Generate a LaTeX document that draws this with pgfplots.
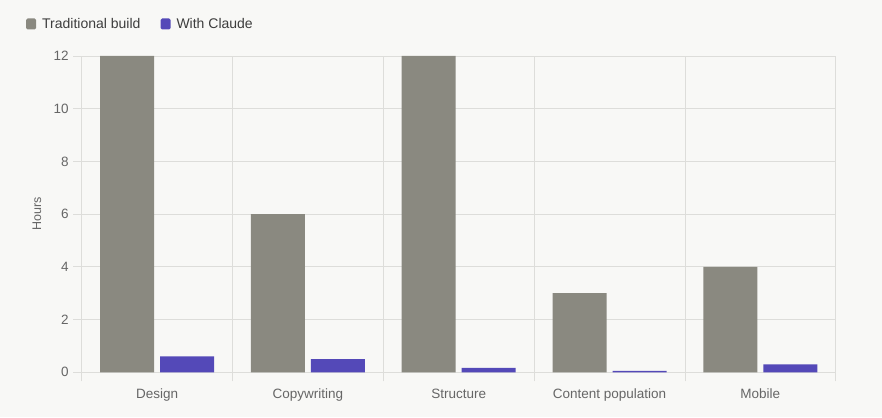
\documentclass[border=0pt]{standalone}
\usepackage{fontspec}
\setmainfont{Liberation Sans}
\usepackage{pgfplots}
\pgfplotsset{compat=1.18}
\definecolor{bg}{HTML}{F8F8F6}
\definecolor{trad}{HTML}{8A8980}
\definecolor{claude}{HTML}{5449B8}
\definecolor{gridc}{HTML}{DDDDDA}
\definecolor{tickc}{HTML}{666666}
\definecolor{legc}{HTML}{3D3D3D}
\begin{document}
\begin{tikzpicture}[x=1pt,y=1pt]
\fill[bg] (0,0) rectangle (882,417);
\useasboundingbox (0,0) rectangle (882,417);
\begin{axis}[
  at={(81.7pt,44.7pt)}, anchor=south west,
  scale only axis, width=754pt, height=316.3pt,
  xmin=-0.5, xmax=4.5, ymin=0, ymax=12,
  xtick={0,...,4},
  xticklabels={Design,Copywriting,Structure,Content population,Mobile},
  major x tick style={draw=none},
  minor xtick={-0.5,0.5,1.5,2.5,3.5,4.5},
  xminorgrids=true,
  ytick={0,2,...,12}, ymajorgrids=true,
  xtick pos=bottom, ytick pos=left,
  tick align=outside,
  major tick length=8.5pt, minor tick length=9pt,
  every tick/.style={gridc, line width=0.8pt},
  grid style={gridc, line width=0.8pt},
  minor grid style={gridc, line width=0.8pt},
  axis line style={gridc, line width=0.8pt},
  /pgf/number format/assume math mode=true,
  tick label style={font=\fontsize{13.5}{15}\selectfont, text=tickc},
  yticklabel style={xshift=-1pt},
  xticklabel style={yshift=-4pt, text height=10pt, text depth=3pt},
  ylabel={Hours},
  ylabel style={at={(axis description cs:0,0.5)}, anchor=center, yshift=44.7pt, font=\fontsize{12.5}{14}\selectfont, text=tickc},
  legend style={at={(0,1)}, anchor=west, xshift=-55.7pt, yshift=32pt,
    draw=none, fill=none, inner sep=0pt,
    font=\fontsize{14}{16}\selectfont, text=legc,
    nodes={inner xsep=6pt, inner ysep=0pt},
    /tikz/every even column/.append style={column sep=14pt}},
  legend columns=2,
]
\addplot[ybar, bar width=54pt, bar shift=-30pt, fill=trad, draw=none,
  legend image code/.code={\fill[trad, rounded corners=1.5pt] (0pt,-5.5pt) rectangle (10pt,5.5pt);}]
  coordinates {(0,12) (1,6) (2,12) (3,3) (4,4)};
\addlegendentry{Traditional build}
\addplot[ybar, bar width=54pt, bar shift=30pt, fill=claude, draw=none,
  legend image code/.code={\fill[claude, rounded corners=1.5pt] (0pt,-5.5pt) rectangle (10pt,5.5pt);}]
  coordinates {(0,0.6) (1,0.5) (2,0.17) (3,0.05) (4,0.3)};
\addlegendentry{With Claude}
\end{axis}
\end{tikzpicture}
\end{document}
